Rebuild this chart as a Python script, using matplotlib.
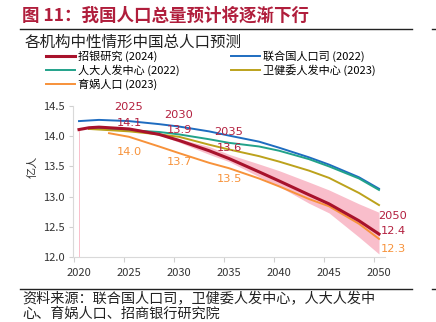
import matplotlib
matplotlib.use("Agg")
import matplotlib.pyplot as plt
from matplotlib.lines import Line2D
from matplotlib.ticker import FixedLocator, FormatStrFormatter

plt.rcParams['font.family'] = ['Noto Sans CJK SC', 'DejaVu Sans']

# 招银研究 (2024) central path and uncertainty band
cmb_years = [2020, 2021, 2022, 2025, 2028, 2030, 2033, 2035, 2038, 2040, 2043, 2045, 2048, 2050]
cmb_vals = [14.11, 14.14, 14.15, 14.12, 14.03, 13.93, 13.76, 13.63, 13.41, 13.26, 13.03, 12.88, 12.60, 12.38]
band_years = [2027, 2028, 2030, 2033, 2035, 2038, 2040, 2043, 2045, 2048, 2050]
band_upper = [14.06, 14.04, 13.96, 13.83, 13.70, 13.54, 13.43, 13.24, 13.11, 12.88, 12.74]
band_lower = [14.06, 14.02, 13.90, 13.70, 13.58, 13.33, 13.17, 12.89, 12.73, 12.33, 12.05]

# 联合国人口司 (2022)
un_years = [2020, 2022, 2025, 2028, 2030, 2033, 2035, 2038, 2040, 2043, 2045, 2048, 2050]
un_vals = [14.25, 14.27, 14.25, 14.20, 14.16, 14.08, 14.01, 13.91, 13.81, 13.65, 13.53, 13.32, 13.13]

# 人大人发中心 (2022)
ruc_years = [2021, 2022, 2025, 2028, 2030, 2033, 2035, 2038, 2040, 2043, 2045, 2048, 2050]
ruc_vals = [14.12, 14.12, 14.10, 14.07, 14.03, 13.95, 13.89, 13.83, 13.76, 13.62, 13.50, 13.30, 13.11]

# 卫健委人发中心 (2023)
nhc_years = [2021, 2022, 2025, 2028, 2030, 2033, 2035, 2038, 2040, 2043, 2045, 2048, 2050]
nhc_vals = [14.12, 14.11, 14.08, 14.03, 13.99, 13.86, 13.78, 13.67, 13.58, 13.43, 13.31, 13.06, 12.86]

# 育娲人口 (2023)
yw_years = [2023, 2025, 2028, 2030, 2033, 2035, 2038, 2040, 2043, 2045, 2048, 2050]
yw_vals = [14.05, 13.99, 13.83, 13.72, 13.56, 13.47, 13.30, 13.17, 12.96, 12.84, 12.55, 12.30]

label_years = [2025, 2030, 2035, 2050]
x_tick_years = [2020, 2025, 2030, 2035, 2040, 2045, 2050]
y_ticks = [12.0, 12.5, 13.0, 13.5, 14.0, 14.5]

series_names = ['招银研究 (2024)', '人大人发中心 (2022)', '育娲人口 (2023)',
                '联合国人口司 (2022)', '卫健委人发中心 (2023)']

C_RED = '#A8122C'
C_BLUE = '#1E6CC0'
C_TEAL = '#22A28A'
C_OLIVE = '#BCA21C'
C_ORANGE = '#F7923A'
C_PINK = '#F9BECB'
C_LABEL = '#B3203F'

fig = plt.figure(figsize=(4.36, 3.22), dpi=100)
ax = fig.add_axes([73 / 436, 65 / 322, 312 / 436, 151 / 322])

ax.fill_between(band_years, band_lower, band_upper, color=C_PINK, lw=0, zorder=1)
ax.vlines(cmb_years[0], y_ticks[0], cmb_vals[0], color=C_PINK, lw=0.7, zorder=1)

ax.plot(un_years, un_vals, color=C_BLUE, lw=1.4, zorder=3)
ax.plot(ruc_years, ruc_vals, color=C_TEAL, lw=1.4, zorder=3)
ax.plot(nhc_years, nhc_vals, color=C_OLIVE, lw=1.4, zorder=3)
ax.plot(yw_years, yw_vals, color=C_ORANGE, lw=1.4, zorder=3)
ax.plot(cmb_years, cmb_vals, color=C_RED, lw=2.2, zorder=4)

# value callouts on the 招银 and 育娲 paths
red_offsets = {2025: (0, 6, 22), 2030: (0, 10, 25), 2035: (0, 11, 27), 2050: (14, 3, 18)}
orange_offsets = {2025: (0, -15), 2030: (0, -9), 2035: (0, -11), 2050: (14, -10)}
for yr in label_years:
    v = cmb_vals[cmb_years.index(yr)]
    dx, dv, dy = red_offsets[yr]
    ax.annotate(f'{v:.1f}', (yr, v), xytext=(dx, dv), textcoords='offset pixels',
                ha='center', va='center', color=C_LABEL, fontsize=8.2,
                family='DejaVu Sans', zorder=6)
    ax.annotate(str(yr), (yr, v), xytext=(dx, dy), textcoords='offset pixels',
                ha='center', va='center', color=C_LABEL, fontsize=8.2,
                family='DejaVu Sans', zorder=6)
    o = yw_vals[yw_years.index(yr)]
    odx, ody = orange_offsets[yr]
    ax.annotate(f'{o:.1f}', (yr, o), xytext=(odx, ody), textcoords='offset pixels',
                ha='center', va='center', color=C_ORANGE, fontsize=8.2,
                family='DejaVu Sans', zorder=6)

ax.set_xlim(2019.4, 2050.6)
ax.set_ylim(y_ticks[0], y_ticks[-1])
ax.set_xticks(x_tick_years)
ax.set_xticklabels([str(y) for y in x_tick_years])
ax.xaxis.set_minor_locator(FixedLocator([y - 0.5 for y in x_tick_years]))
ax.set_yticks(y_ticks)
ax.yaxis.set_major_formatter(FormatStrFormatter('%.1f'))
ax.tick_params(axis='x', which='major', length=0, pad=8, labelsize=8, labelcolor='#333333')
ax.tick_params(axis='x', which='minor', length=3.5, color='#D0D0D0', width=0.8)
ax.tick_params(axis='y', length=3, color='#D0D0D0', width=0.8, pad=3,
               labelsize=8, labelcolor='#333333')
for s in ('top', 'right'):
    ax.spines[s].set_visible(False)
for s in ('left', 'bottom'):
    ax.spines[s].set_color('#D9D9D9')
    ax.spines[s].set_linewidth(0.8)
ax.set_ylabel('亿人', fontsize=8, color='#333333')
ax.yaxis.set_label_coords(-0.115, 0.6)

handles = [Line2D([], [], color=C_RED, lw=2.2), Line2D([], [], color=C_TEAL, lw=1.4),
           Line2D([], [], color=C_ORANGE, lw=1.4), Line2D([], [], color=C_BLUE, lw=1.4),
           Line2D([], [], color=C_OLIVE, lw=1.4)]
fig.legend(handles, series_names, ncol=2, loc='upper left',
           bbox_to_anchor=(46 / 436, 1 - 50 / 322), frameon=False,
           fontsize=8, handlelength=2.6, handletextpad=0.3,
           columnspacing=4.6, labelspacing=0.25, borderpad=0, borderaxespad=0)

fig.text(22 / 436, 1 - 16 / 322, '图 11：我国人口总量预计将逐渐下行', fontsize=12.6,
         fontweight='bold', color='#B01E3C', va='center', ha='left')
fig.add_artist(Line2D([20 / 436, 412 / 436], [1 - 28.5 / 322] * 2, color='#222222', lw=1.0))
fig.add_artist(Line2D([432 / 436, 436 / 436], [1 - 28.5 / 322] * 2, color='#222222', lw=1.0))
fig.text(25 / 436, 1 - 42 / 322, '各机构中性情形中国总人口预测', fontsize=11.2,
         color='#222222', va='center', ha='left')

fig.add_artist(Line2D([20 / 436, 412 / 436], [1 - 289 / 322] * 2, color='#222222', lw=1.0))
fig.add_artist(Line2D([432 / 436, 436 / 436], [1 - 289 / 322] * 2, color='#222222', lw=1.0))
fig.text(22 / 436, 1 - 299 / 322, '资料来源：联合国人口司，卫健委人发中心，人大人发中',
         fontsize=10.2, color='#222222', va='center', ha='left')
fig.text(22 / 436, 1 - 314 / 322, '心、育娲人口、招商银行研究院', fontsize=10.2,
         color='#222222', va='center', ha='left')

fig.savefig('out.png', dpi=100)
